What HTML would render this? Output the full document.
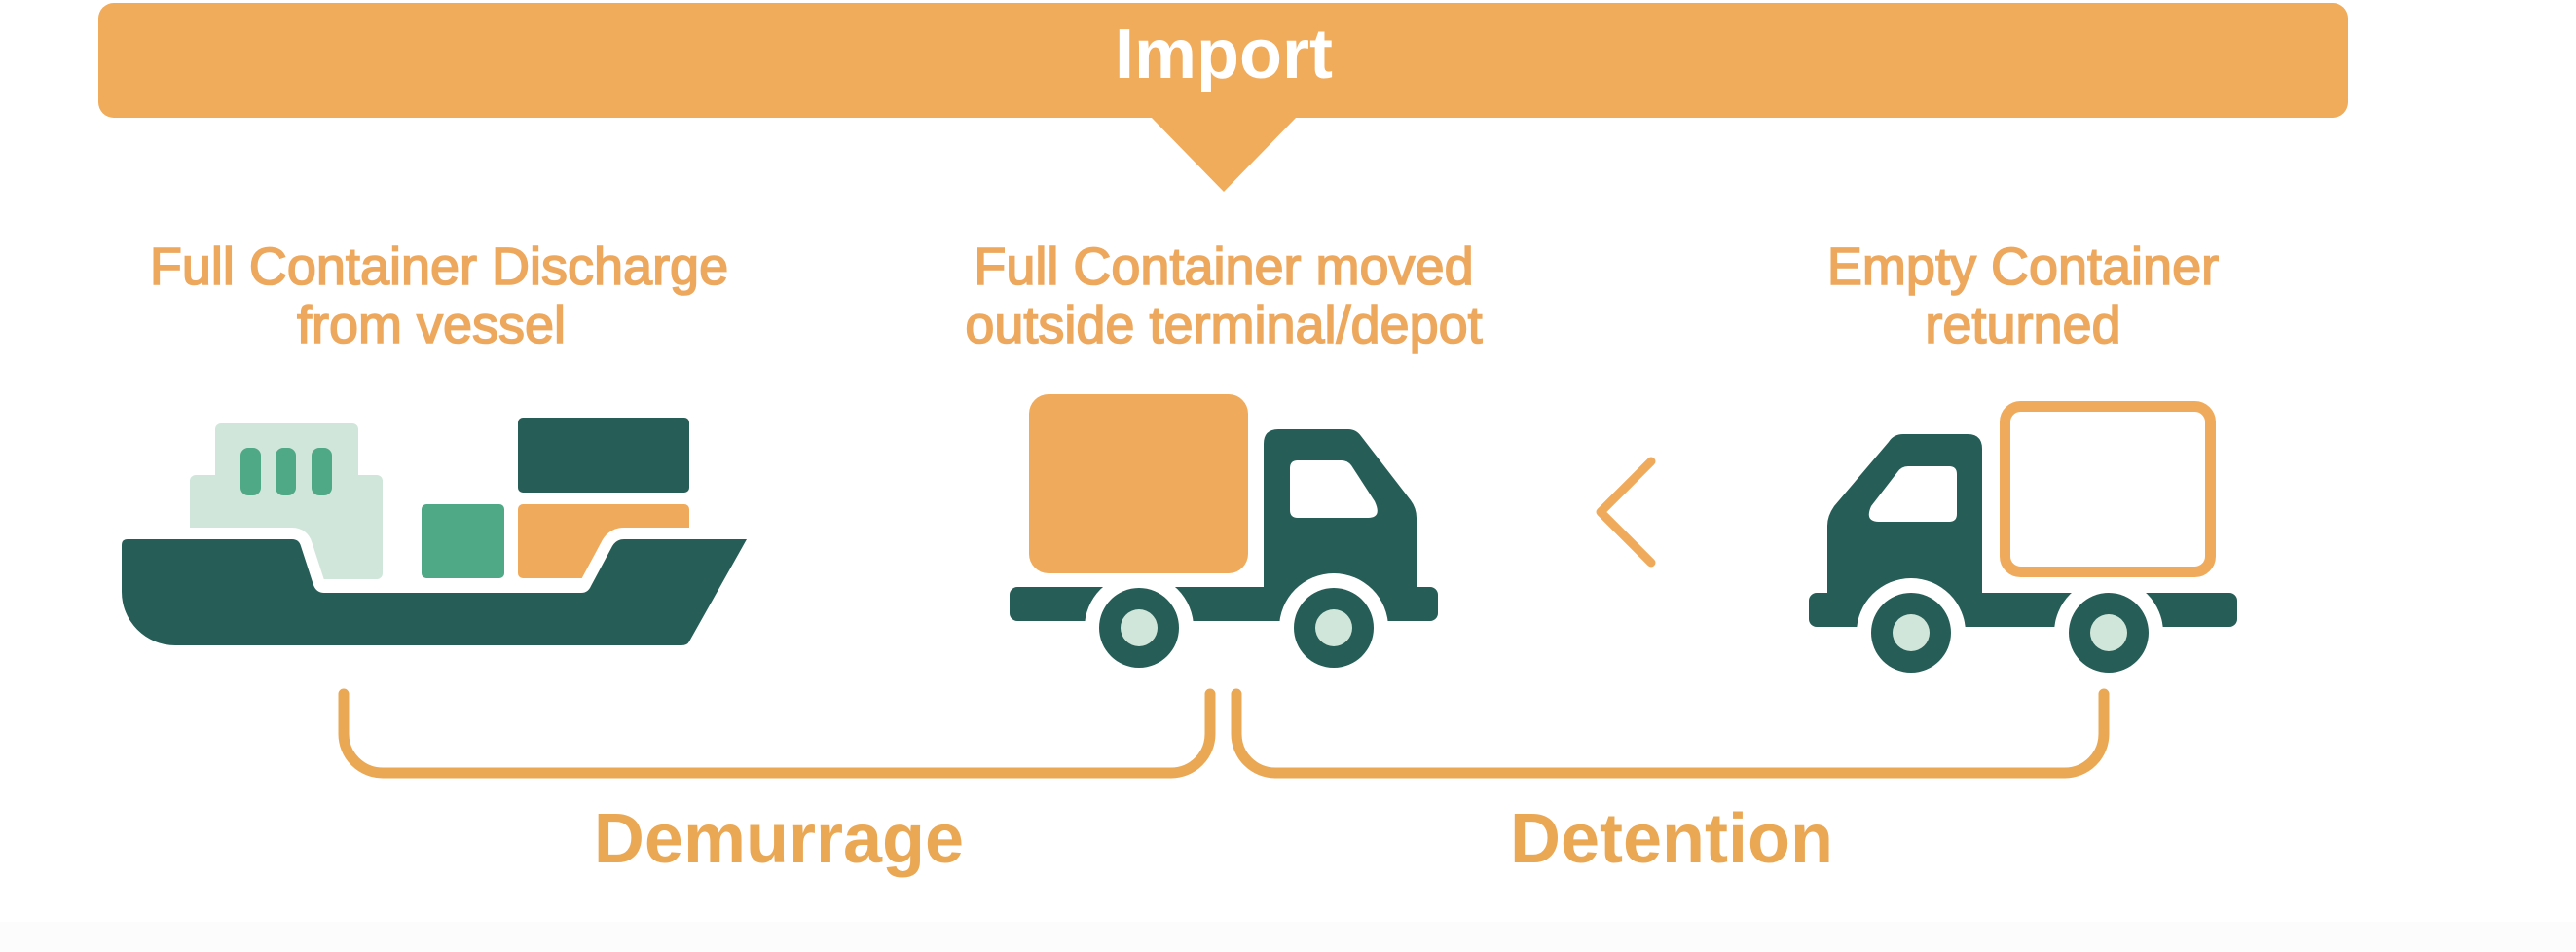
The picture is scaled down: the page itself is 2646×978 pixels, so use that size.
<!DOCTYPE html>
<html>
<head>
<meta charset="utf-8">
<style>
  html, body { margin: 0; padding: 0; background: #ffffff; }
  body { width: 2646px; height: 978px; overflow: hidden; }
  svg { display: block; }
  .lbl { font-family: "Liberation Sans", Arial, sans-serif; font-size: 54px; fill: #EDA85E; stroke: #EDA85E; stroke-width: 1.6px; }
  .big { font-family: "Liberation Sans", Arial, sans-serif; font-size: 72px; font-weight: bold; fill: #EAA855; }
</style>
</head>
<body>
<svg width="2646" height="978" viewBox="0 0 2646 978" xmlns="http://www.w3.org/2000/svg">
  <rect x="0" y="0" width="2646" height="978" fill="#ffffff"/>
  <rect x="0" y="947" width="2646" height="31" fill="#FCFCFC"/>

  <!-- Banner -->
  <rect x="101" y="3" width="2311" height="118" rx="16" fill="#F0AB5B"/>
  <polygon points="1181,119 1333,119 1257,197" fill="#F0AB5B"/>
  <text x="1257" y="80" text-anchor="middle" font-family="Liberation Sans, Arial, sans-serif" font-size="72" font-weight="bold" fill="#ffffff">Import</text>

  <!-- Labels -->
  <text class="lbl" x="451" y="292" text-anchor="middle">Full Container Discharge</text>
  <text class="lbl" x="443" y="352" text-anchor="middle">from vessel</text>
  <text class="lbl" x="1257" y="292" text-anchor="middle">Full Container moved</text>
  <text class="lbl" x="1257" y="352" text-anchor="middle">outside terminal/depot</text>
  <text class="lbl" x="2078" y="292" text-anchor="middle">Empty Container</text>
  <text class="lbl" x="2078" y="352" text-anchor="middle">returned</text>

  <!-- Ship -->
  <rect x="221" y="435" width="147" height="65" rx="6" fill="#D1E6DA"/>
  <rect x="195" y="488" width="198" height="107" rx="6" fill="#D1E6DA"/>
  <rect x="247" y="460" width="21" height="49" rx="8" fill="#4FA886"/>
  <rect x="283" y="460" width="21" height="49" rx="8" fill="#4FA886"/>
  <rect x="320" y="460" width="21" height="49" rx="8" fill="#4FA886"/>
  <rect x="532" y="429" width="176" height="77" rx="5" fill="#265E57"/>
  <rect x="433" y="518" width="85" height="76" rx="5" fill="#4FA886"/>
  <rect x="532" y="518" width="176" height="76" rx="5" fill="#F0AA5B"/>
  <path d="M131,554 H300 Q307,554 309,561 L322,601 Q325,609 333,609 H597 Q604,609 607,602 L629,561 Q633,554 641,554 H767 L708,659 Q706,663 700,663 H180 A55 55 0 0 1 125 608 V560 Q125,554 131,554 Z" fill="#ffffff" stroke="#ffffff" stroke-width="24" stroke-linejoin="round"/>
  <path d="M131,554 H300 Q307,554 309,561 L322,601 Q325,609 333,609 H597 Q604,609 607,602 L629,561 Q633,554 641,554 H767 L708,659 Q706,663 700,663 H180 A55 55 0 0 1 125 608 V560 Q125,554 131,554 Z" fill="#265E57"/>

  <!-- Truck 1 (full) -->
  <rect x="1057" y="405" width="225" height="184" rx="20" fill="#F0AA5B"/>
  <rect x="1037" y="603" width="440" height="35" rx="8" fill="#265E57"/>
  <path d="M1298,456 Q1298,441 1313,441 H1385 Q1393,441 1398,448 L1449,514 Q1455,522 1455,532 V620 H1298 Z" fill="#265E57"/>
  <path d="M1325,481 Q1325,473 1333,473 H1378 Q1384,473 1388,478 L1412,515 Q1420,532 1405,532 H1333 Q1325,532 1325,524 Z" fill="#ffffff"/>
  <circle cx="1170" cy="645" r="56" fill="#ffffff"/>
  <circle cx="1370" cy="645" r="56" fill="#ffffff"/>
  <circle cx="1170" cy="645" r="41" fill="#265E57"/>
  <circle cx="1370" cy="645" r="41" fill="#265E57"/>
  <circle cx="1170" cy="645" r="19" fill="#D1E6DA"/>
  <circle cx="1370" cy="645" r="19" fill="#D1E6DA"/>

  <!-- Chevron -->
  <polyline points="1696,474 1644,526 1696,578" fill="none" stroke="#F0AA5B" stroke-width="9" stroke-linecap="round" stroke-linejoin="round"/>

  <!-- Truck 2 (empty) -->
  <rect x="2059.5" y="417.5" width="211" height="170" rx="16" fill="none" stroke="#F0AA5B" stroke-width="11"/>
  <rect x="1858" y="609" width="440" height="35" rx="8" fill="#265E57"/>
  <path d="M2036,461 Q2036,446 2021,446 H1955 Q1945,446 1940,454 L1884,520 Q1877,530 1877,540 V625 H2036 Z" fill="#265E57"/>
  <path d="M2010,487 Q2010,479 2002,479 H1960 Q1953,479 1949,485 L1922,520 Q1915,536 1930,536 H2002 Q2010,536 2010,528 Z" fill="#ffffff"/>
  <circle cx="1963" cy="650" r="56" fill="#ffffff"/>
  <circle cx="2166" cy="650" r="56" fill="#ffffff"/>
  <circle cx="1963" cy="650" r="41" fill="#265E57"/>
  <circle cx="2166" cy="650" r="41" fill="#265E57"/>
  <circle cx="1963" cy="650" r="19" fill="#D1E6DA"/>
  <circle cx="2166" cy="650" r="19" fill="#D1E6DA"/>

  <!-- Brackets -->
  <path d="M353,713 V754 A40 40 0 0 0 393 794 H1203 A40 40 0 0 0 1243 754 V713" fill="none" stroke="#EAA855" stroke-width="11" stroke-linecap="round"/>
  <path d="M1270,713 V754 A40 40 0 0 0 1310 794 H2121 A40 40 0 0 0 2161 754 V713" fill="none" stroke="#EAA855" stroke-width="11" stroke-linecap="round"/>

  <text class="big" x="800" y="886" text-anchor="middle">Demurrage</text>
  <text class="big" x="1717" y="886" text-anchor="middle">Detention</text>
</svg>
</body>
</html>
